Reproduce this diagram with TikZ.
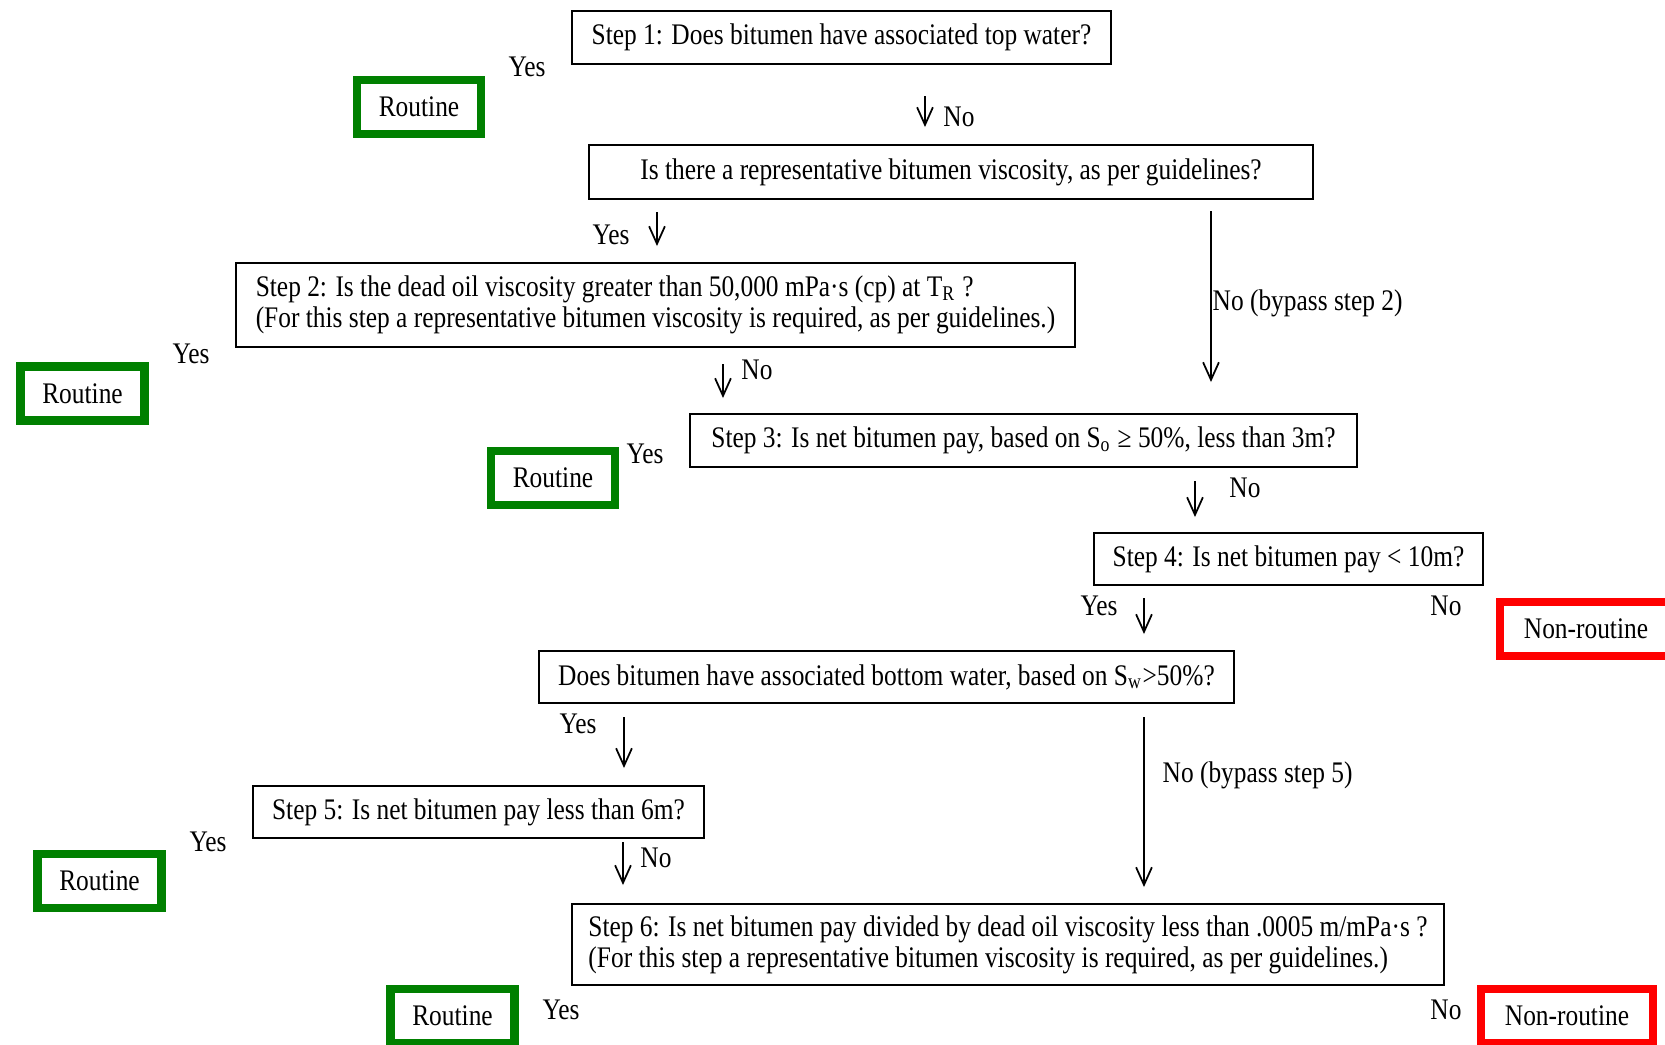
\documentclass[tikz,border=0pt]{standalone}
\usepackage{fontspec}
\setmainfont{Liberation Serif}[FakeStretch=0.85]
\usepackage{xcolor}
\usetikzlibrary{arrows.meta}
\definecolor{okgreen}{RGB}{0,128,0}
\definecolor{badred}{RGB}{255,0,0}

\begin{document}
\begin{tikzpicture}[x=0.01cm, y=-0.01cm,
  every node/.style={font=\fontsize{8.5}{8.8}\selectfont},
  question/.style={draw, line width=0.6pt, inner sep=0pt, align=center},
  routine/.style={draw=okgreen, line width=2.3pt, inner sep=0pt, minimum width=1.24cm, minimum height=0.54cm},
  nonroutine/.style={draw=badred, line width=2.3pt, inner sep=0pt, minimum width=1.72cm, minimum height=0.54cm},
  flow/.style={-{Straight Barb[length=5pt,width=4.5pt]}, line width=0.5pt}]
\useasboundingbox (0,0) rectangle (1665,1044);

%draw question boxes
\node[question, minimum width=5.39cm, minimum height=0.53cm] (step1) at (841.5,37.5) {Step 1: Does bitumen have associated top water?};
\node[question, minimum width=7.24cm, minimum height=0.54cm] (visc) at (951,172) {Is there a representative bitumen viscosity, as per guidelines?};
\node[question, minimum width=8.39cm, minimum height=0.84cm, align=left] (step2) at (655.5,305) {Step 2: Is the dead oil viscosity greater than 50,000 mPa·s (cp) at T\textsubscript{R} ?\\(For this step a representative bitumen viscosity is required, as per guidelines.)};
\node[question, minimum width=6.67cm, minimum height=0.53cm] (step3) at (1023.5,440.5) {Step 3: Is net bitumen pay, based on S\textsubscript{o} ≥ 50\%, less than 3m?};
\node[question, minimum width=3.89cm, minimum height=0.52cm] (step4) at (1288.5,559) {Step 4: Is net bitumen pay < 10m?};
\node[question, minimum width=6.95cm, minimum height=0.52cm] (bottom) at (886.5,677) {Does bitumen have associated bottom water, based on S\textsubscript{w}>50\%?};
\node[question, minimum width=4.51cm, minimum height=0.52cm] (step5) at (478.5,812) {Step 5: Is net bitumen pay less than 6m?};
\node[question, minimum width=8.72cm, minimum height=0.81cm, align=left] (step6) at (1008,944.5) {Step 6: Is net bitumen pay divided by dead oil viscosity less than .0005 m/mPa·s ?\\(For this step a representative bitumen viscosity is required, as per guidelines.)};

%draw result boxes
\node[routine] (rout1) at (419,107) {Routine};
\node[routine] (rout2) at (82.5,393.5) {Routine};
\node[routine] (rout3) at (553,478) {Routine};
\node[routine] (rout4) at (99.5,881) {Routine};
\node[routine] (rout5) at (452.5,1016) {Routine};
\node[nonroutine] (nonrout1) at (1586,629) {Non-routine};
\node[nonroutine] (nonrout2) at (1567,1016) {Non-routine};

%arrow ends
\coordinate (a1s) at (925,96);   \coordinate (a1e) at (925,127);
\coordinate (avs) at (657,212);  \coordinate (ave) at (657,246);
\coordinate (b2s) at (1211,211); \coordinate (b2e) at (1211,382);
\coordinate (a2s) at (723,364);  \coordinate (a2e) at (723,398);
\coordinate (a3s) at (1195,481); \coordinate (a3e) at (1195,517);
\coordinate (a4s) at (1144,598); \coordinate (a4e) at (1144,634);
\coordinate (abs) at (624,717);  \coordinate (abe) at (624,768);
\coordinate (b5s) at (1144,717); \coordinate (b5e) at (1144,887);
\coordinate (a5s) at (623,842);  \coordinate (a5e) at (623,885);

%draw arrows
\foreach \s/\e in {a1s/a1e, avs/ave, b2s/b2e, a2s/a2e, a3s/a3e, a4s/a4e, abs/abe, b5s/b5e, a5s/a5e}
   \draw[flow] (\s) -- (\e);

%draw labels
\node (yes1) at (527,67) {Yes};
\node (no1) at (959,117) {No};
\node (yesv) at (611,235) {Yes};
\node[anchor=west, inner sep=0pt] (nob2) at (1212,303) {No (bypass step 2)};
\node (yes2) at (191,354) {Yes};
\node (no2) at (757,370) {No};
\node (yes3) at (645,454) {Yes};
\node (no3) at (1245,488) {No};
\node (yes4) at (1099,606) {Yes};
\node (no4) at (1446,606) {No};
\node (yesb) at (578,724) {Yes};
\node[anchor=west, inner sep=0pt] (nob5) at (1162,775) {No (bypass step 5)};
\node (yes5) at (208,842) {Yes};
\node (no5) at (656,858) {No};
\node (yes6) at (561,1010) {Yes};
\node (no6) at (1446,1010) {No};
\end{tikzpicture}
\end{document}
